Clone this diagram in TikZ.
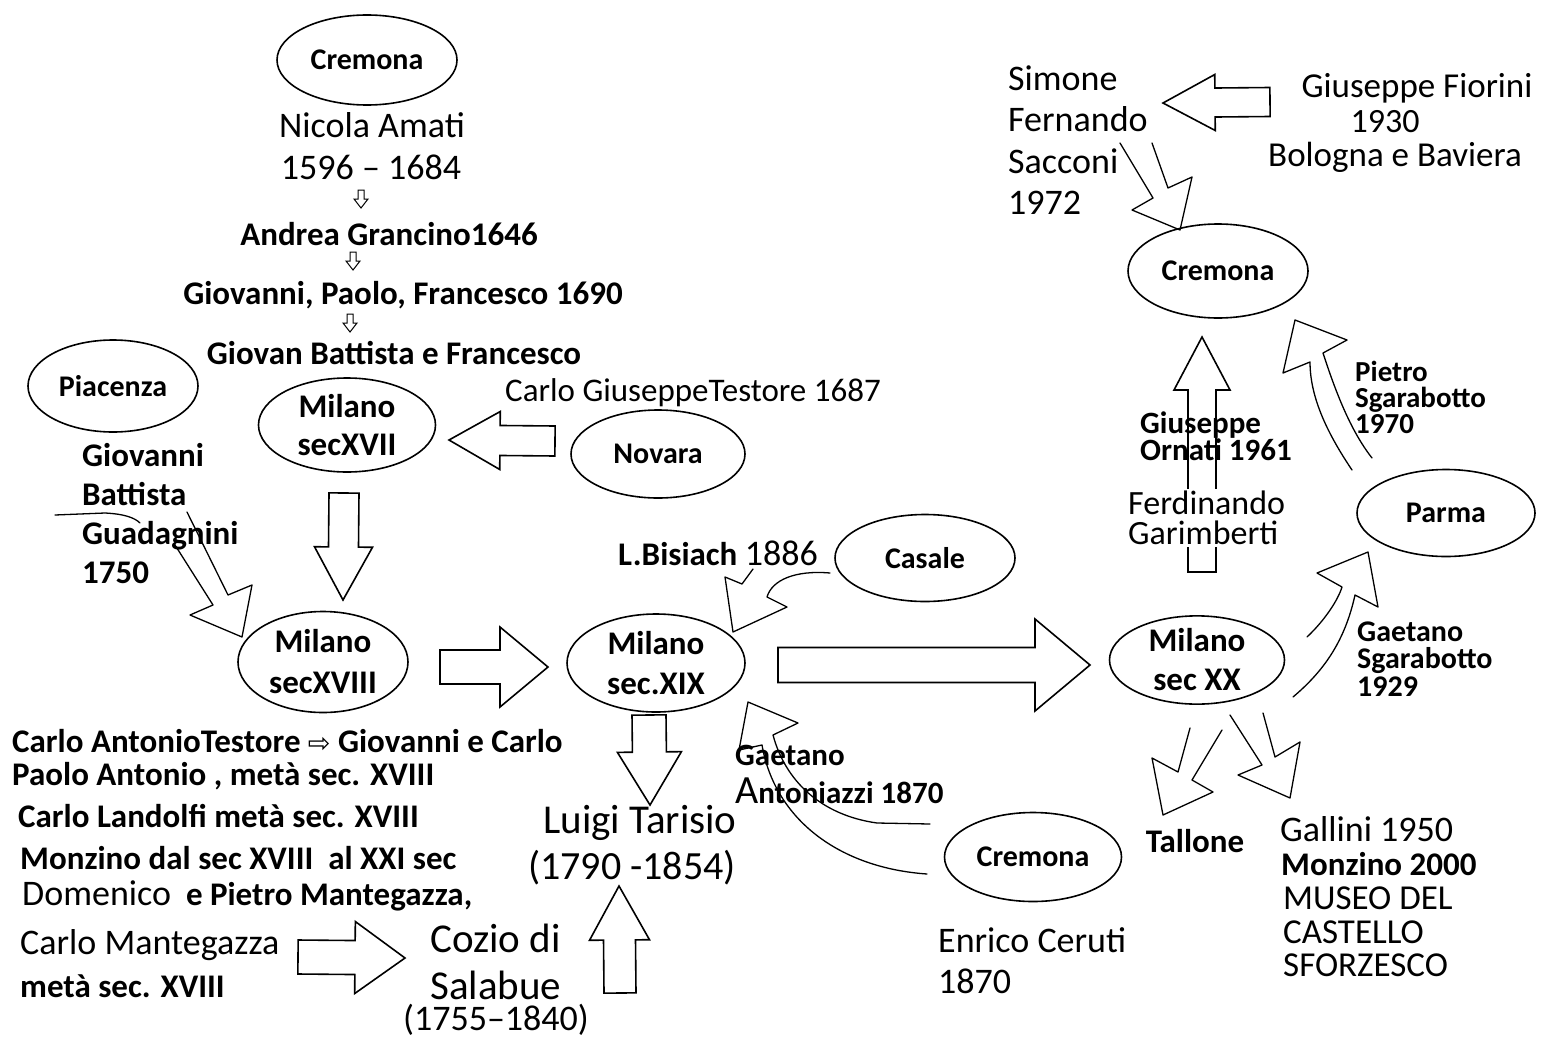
\documentclass[tikz,border=0pt]{standalone}
\usepackage{fontspec}
\setmainfont{Carlito}
\newfontfamily\dejavu{DejaVu Sans}
\usetikzlibrary{shapes.geometric,calc}
\tikzset{
 ln/.style={line width=1.6pt},
 thinln/.style={line width=1.3pt, line join=round, line cap=round},
 ell/.style={draw, ellipse, ln, inner sep=0pt, align=center, font=\fontsize{30}{38}\selectfont\bfseries},
 barr/.style={draw, ln, fill=white, line join=miter},
 sarr/.style={draw, line width=1pt, fill=white},
 txt/.style={inner sep=0pt, font=\fontsize{36}{41}\selectfont},
 btxt/.style={inner sep=0pt, font=\fontsize{33}{39}\selectfont\bfseries},
}
% block arrow: #1 tail, #2 tip, #3 shaft half width, #4 head half width, #5 head length, #6 style
\newcommand\barw[6]{%
 \coordinate (bA) at #1; \coordinate (bT) at #2;
 \coordinate (bH) at ($(bT)!#5!(bA)$);
 \draw[#6] ($(bA)!#3!90:(bT)$) -- ($(bH)!#3!90:(bT)$) -- ($(bH)!#4!90:(bT)$) -- (bT)
   -- ($(bH)!#4!-90:(bT)$) -- ($(bH)!#3!-90:(bT)$) -- ($(bA)!#3!-90:(bT)$) -- cycle;
}
\begin{document}
\begin{tikzpicture}[x=1pt,y=-1pt]
\fill[white] (0,0) rectangle (1549,1041);
\useasboundingbox (0,0) rectangle (1549,1041);

% ---------- ellipses ----------
\node[ell, minimum width=180, minimum height=90] (crt) at (367,60) {Cremona};
\node[ell, minimum width=170, minimum height=92] (pia) at (113,386) {Piacenza};
\node[ell, minimum width=177, minimum height=94, font=\fontsize{33}{38}\selectfont\bfseries] (m17) at (347,425) {Milano\\secXVII};
\node[ell, minimum width=174, minimum height=88] (nov) at (658,454) {Novara};
\node[ell, minimum width=170, minimum height=101, font=\fontsize{33}{41}\selectfont\bfseries] (m18) at (323,662) {Milano\\secXVIII};
\node[ell, minimum width=178, minimum height=98, font=\fontsize{33}{40}\selectfont\bfseries] (m19) at (656,663) {Milano\\sec.XIX};
\node[ell, minimum width=180, minimum height=87] (cas) at (925,558) {Casale};
\node[ell, minimum width=177, minimum height=89] (crl) at (1033,857) {Cremona};
\node[ell, minimum width=175, minimum height=87, font=\fontsize{33}{39}\selectfont\bfseries] (m20) at (1197,660) {Milano\\sec XX};
\node[ell, minimum width=178, minimum height=87] (par) at (1446,513) {Parma};
\node[ell, minimum width=180, minimum height=94] (crr) at (1218,271) {Cremona};

% ---------- arrow end coordinates ----------
\coordinate (novT) at (555,441);  \coordinate (m17H) at (449,440);
\coordinate (m17B) at (344,493);  \coordinate (m18T) at (343,600);
\coordinate (m18R) at (440,667);  \coordinate (m19L) at (548,667);
\coordinate (m19R) at (778,665);  \coordinate (m20L) at (1090,665);
\coordinate (m19B) at (649,715);  \coordinate (tarT) at (650,805);
\coordinate (cozB) at (620,993);  \coordinate (tarB) at (619,886);
\coordinate (manR) at (298,957);  \coordinate (cozL) at (405,958);
\coordinate (fioL) at (1270,102); \coordinate (simR) at (1163,103);
\coordinate (m20T) at (1202,572); \coordinate (crrB) at (1202,337);

% ---------- block arrows ----------
\barw{(novT)}{(m17H)}{15pt}{29pt}{51pt}{barr}
\barw{(m17B)}{(m18T)}{15pt}{29pt}{53pt}{barr}
\barw{(m18R)}{(m19L)}{17pt}{40pt}{48pt}{barr}
\barw{(m19R)}{(m20L)}{17.5pt}{46pt}{55pt}{barr}
\barw{(m19B)}{(tarT)}{17pt}{32pt}{53pt}{barr}
\barw{(cozB)}{(tarB)}{16pt}{30pt}{54pt}{barr}
\barw{(manR)}{(cozL)}{17pt}{36pt}{50pt}{barr}
\barw{(fioL)}{(simR)}{14.5pt}{28pt}{52pt}{barr}
\barw{(m20T)}{(crrB)}{14pt}{28pt}{53pt}{barr}

% small arrows between names
\barw{(361,190)}{(361,208)}{3pt}{7pt}{9pt}{sarr}
\barw{(353,252)}{(353,270)}{3pt}{7pt}{9pt}{sarr}
\barw{(350,314)}{(350,332)}{3pt}{7pt}{9pt}{sarr}

% ---------- hand drawn arrows ----------
% Guadagnini -> Milano XVIII
\draw[thinln] (175,545) -- (213,605) -- (190,615) -- (242,637) -- (252,585) -- (228,595) -- (187,512);
\draw[thinln] (55,515) -- (105,513) .. controls (125,514) and (135,518) .. (140,523);
% Casale -> Milano XIX (Bisiach)
\draw[thinln] (753,569) -- (742,584) -- (725,577) -- (733,632) -- (787,607) -- (767,597)
  .. controls (772,580) and (795,570) .. (830,573);
% Cremona -> Milano XIX (Antoniazzi)
\draw[thinln] (930,824) -- (877,823) .. controls (820,815) and (785,780) .. (773,735)
  -- (798,723) -- (748,702) -- (739,750) -- (762,745)
  .. controls (775,820) and (840,868) .. (927,874);
% Sacconi -> Cremona
\draw[thinln] (1120,143) -- (1153,198) -- (1132,210) -- (1180,230) -- (1192,177) -- (1168,188) -- (1152,143);
% Parma -> Cremona (Pietro Sgarabotto)
\draw[thinln] (1352,470) .. controls (1325,430) and (1310,395) .. (1310,362) -- (1283,373) -- (1295,320)
  -- (1347,340) -- (1323,353) .. controls (1335,390) and (1350,430) .. (1372,458);
% Milano XX -> Parma (Gaetano Sgarabotto)
\draw[thinln] (1307,637) .. controls (1325,620) and (1338,600) .. (1342,587) -- (1317,573) -- (1368,552)
  -- (1378,607) -- (1355,595) .. controls (1345,640) and (1325,670) .. (1293,697);
% Milano XX -> Tallone
\draw[thinln] (1190,728) -- (1178,772) -- (1152,758) -- (1163,815) -- (1213,792) -- (1192,780) -- (1222,730);
% Milano XX -> Gallini
\draw[thinln] (1230,715) -- (1262,765) -- (1238,775) -- (1290,798) -- (1300,742) -- (1275,757) -- (1263,713);

% ---------- texts ----------
\node[txt] (amati) at (372,125) {Nicola Amati};
\node[txt] (amatid) at (371,167) {1596 – 1684};
\node[btxt] (granc) at (389,234) {Andrea Grancino1646};
\node[btxt] (gpf) at (403,295) {Giovanni, Paolo, Francesco 1690};
\node[btxt] (gbf) at (394,353) {Giovan Battista e Francesco};
\node[txt, font=\fontsize{33}{39}\selectfont, anchor=west] (cgt) at (505,393) {Carlo GiuseppeTestore 1687};
\node[btxt, anchor=west, align=left] (guad) at (82,514) {Giovanni\\Battista\\Guadagnini\\1750};
\node[btxt, anchor=west] (bis) at (618,553) {L.Bisiach {\mdseries\fontsize{36}{40}\selectfont 1886}};
\node[btxt, anchor=west, align=left, font=\fontsize{31}{38}\selectfont\bfseries] (anto) at (735,774) {Gaetano\\{\fontsize{40}{38}\selectfont\mdseries A}ntoniazzi 1870};
\node[txt, font=\fontsize{41}{45}\selectfont] (tar) at (640,823) {Luigi Tarisio};
\node[txt, font=\fontsize{40}{45}\selectfont] (tard) at (632,868) {(1790 -1854)};
\node[txt, font=\fontsize{41}{45}\selectfont, anchor=west] (coz1) at (430,938) {Cozio di};
\node[txt, font=\fontsize{41}{45}\selectfont, anchor=west] (coz2) at (430,985) {Salabue};
\node[txt, font=\fontsize{36}{45}\selectfont] (coz3) at (496,1020) {(1755–1840)};

\node[btxt, anchor=west] (l1) at (12,741) {Carlo AntonioTestore {\dejavu\mdseries\fontsize{27}{30}\selectfont ⇨} Giovanni e Carlo};
\node[btxt, anchor=west] (l2) at (12,776) {Paolo Antonio , {\fontsize{33}{36}\selectfont metà sec. XVIII}};
\node[btxt, anchor=west] (l3) at (18,816) {Carlo Landolfi metà sec. XVIII};
\node[btxt, anchor=west] (l4) at (20,858) {Monzino dal sec XVIII\ \ al XXI sec};
\node[btxt, anchor=west] (l5) at (22,896) {{\mdseries\fontsize{36}{40}\selectfont Domenico}\ \ e Pietro Mantegazza,};
\node[txt, anchor=west] (l6) at (20,945) {Carlo Mantegazza};
\node[btxt, anchor=west] (l7) at (20,986) {metà sec. XVIII};

\node[txt, anchor=west, align=left, font=\fontsize{36}{41.3}\selectfont] (sac) at (1008,140) {Simone\\Fernando\\Sacconi\\1972};
\node[txt, font=\fontsize{35}{40}\selectfont] (fio1) at (1417,88) {Giuseppe Fiorini};
\node[txt, font=\fontsize{34}{40}\selectfont] (fio2) at (1385,122) {1930};
\node[txt, font=\fontsize{35}{40}\selectfont] (fio3) at (1395,157) {Bologna e Baviera};
\node[btxt, anchor=west, align=left, font=\fontsize{29}{26}\selectfont\bfseries] (pie) at (1355,397) {Pietro\\Sgarabotto\\1970};
\node[btxt, anchor=west, align=left, font=\fontsize{31}{27.5}\selectfont\bfseries] (orn) at (1140,436) {Giuseppe\\Ornati 1961};
\node[txt, anchor=west, align=left, fill=white, inner sep=2pt, font=\fontsize{34}{30.5}\selectfont] (gar) at (1126,518) {Ferdinando\\Garimberti};
\node[btxt, anchor=west, align=left, font=\fontsize{30}{27.5}\selectfont\bfseries] (gsg) at (1357,659) {Gaetano\\Sgarabotto\\1929};
\node[btxt] (tal) at (1195,841) {Tallone};
\node[txt, anchor=west] (gal1) at (1280,829) {Gallini 1950};
\node[btxt, anchor=west] (gal2) at (1281,864) {Monzino 2000};
\node[txt, anchor=west, align=left, font=\fontsize{35}{33.5}\selectfont] (gal3) at (1283,932) {MUSEO DEL\\CASTELLO\\SFORZESCO};
\node[txt, anchor=west, align=left, font=\fontsize{36}{41}\selectfont] (cer) at (938,961) {Enrico Ceruti\\1870};
\end{tikzpicture}
\end{document}
